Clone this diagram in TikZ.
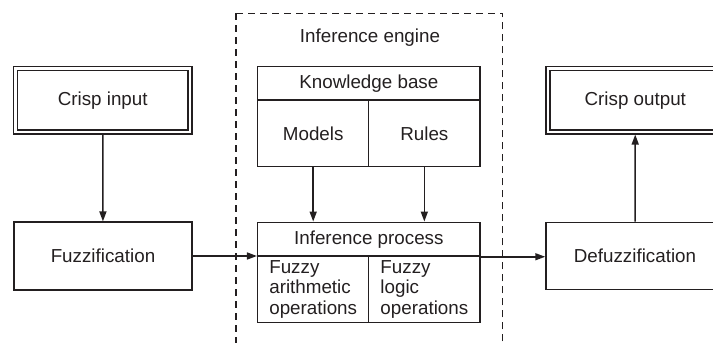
\documentclass[tikz,border=0pt]{standalone}
\usepackage{fontspec}
\setmainfont{Liberation Sans}
\usetikzlibrary{arrows.meta}
\definecolor{ink}{RGB}{35,31,32}
\begin{document}
\begin{tikzpicture}[x=1pt,y=-1pt,
  every node/.style={font=\fontsize{18.8}{20.5}\selectfont, text=ink},
  box/.style={draw=ink, line width=1.5pt, inner sep=0pt, align=center},
  dbox/.style={draw=ink, line width=1.3pt, double, double distance=2.6pt, inner sep=0pt,
               outer sep=2.6pt, minimum width=174.7, minimum height=63.3},
  conn/.style={draw=ink, line width=1.5pt, -{Triangle[length=10pt,width=7pt]}},
  dashbox/.style={draw=ink, line width=1.3pt, dash pattern=on 7pt off 5pt}]
\useasboundingbox (0,0) rectangle (713,343);
\clip (0,0) rectangle (713,343);
% inference engine frame
\draw[dashbox] (236,13.3) rectangle (502.7,380);
\node (eng) at (370,38) {Inference engine};
% left column
\node[dbox] (cin) at (102.7,100.3) {Crisp input};
\node[box, minimum width=178, minimum height=67.7] (fuz) at (103,256) {Fuzzification};
% knowledge base
\node[box, minimum width=222.3, minimum height=33.3] (kb) at (368.85,83.35) {Knowledge base};
\node[box, minimum width=111, minimum height=66.7] (models) at (313.2,133.35) {Models};
\node[box, minimum width=111.3, minimum height=66.7] (rules) at (424.35,133.35) {Rules};
% inference process
\node[box, minimum width=222.3, minimum height=33.7] (ip) at (368.85,239.15) {Inference process};
\node[box, align=left, minimum width=111, minimum height=66.3] (arith) at (313.2,289.15) {Fuzzy\\arithmetic\\operations};
\node[box, align=left, minimum width=111.3, minimum height=66.3] (logic) at (424.35,289.15) {Fuzzy\\logic\\operations};
% right column
\node[box, minimum width=178, minimum height=67] (defuz) at (635,255.8) {Defuzzification};
\node[dbox] (cout) at (635.3,100.3) {Crisp output};
% connectors
\draw[conn] (cin) -- (fuz);
\draw[conn] (fuz) -- (fuz -| ip.west);
\draw[conn] (models) -- (models |- ip.north);
\draw[conn] (rules) -- (rules |- ip.north);
\draw[conn] (ip.south east) -- (ip.south east -| defuz.west);
\draw[conn] (defuz) -- (cout);
\end{tikzpicture}
\end{document}
